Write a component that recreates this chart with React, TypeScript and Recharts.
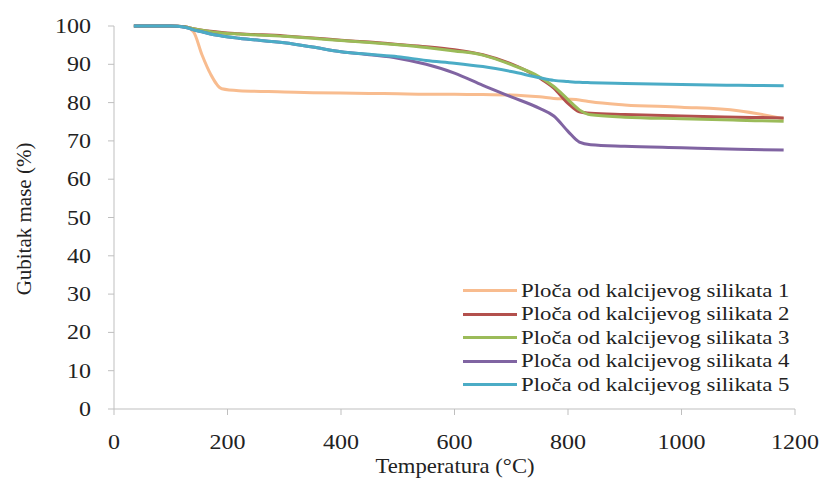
import { LineChart, Line, XAxis, YAxis } from 'recharts';

const temps = [35, 100, 125, 140, 155, 170, 190, 220, 300, 350, 400, 450, 500, 550, 600, 650, 700, 750, 775, 800, 820, 840, 900, 1000, 1100, 1180];

const plate1 = [100, 100, 99.8, 98.5, 92.5, 87.5, 83.6, 83.1, 82.8, 82.6, 82.5, 82.4, 82.3, 82.2, 82.2, 82.1, 82, 81.5, 81.1, 80.9, 80.7, 80.2, 79.4, 78.8, 77.9, 75.8];
const plate2 = [100, 100, 99.8, 99.3, 98.9, 98.6, 98.3, 98, 97.4, 96.9, 96.3, 95.8, 95.2, 94.6, 93.8, 92.5, 90.1, 86.4, 83.8, 79.8, 77.6, 77.2, 76.9, 76.5, 76.2, 76];
const plate3 = [100, 100, 99.8, 99.3, 98.9, 98.5, 98.2, 97.9, 97.3, 96.8, 96.2, 95.7, 95.1, 94.4, 93.5, 92.4, 89.9, 86.7, 84.2, 80.8, 78.1, 76.8, 76.2, 75.8, 75.4, 75.1];
const plate4 = [100, 100, 99.7, 99, 98.5, 97.9, 97.4, 96.8, 95.6, 94.5, 93.3, 92.5, 91.6, 90, 87.7, 84.5, 81.5, 78.5, 76.5, 72.5, 69.7, 69, 68.6, 68.2, 67.8, 67.6];
const plate5 = [100, 100, 99.7, 99, 98.5, 97.9, 97.4, 96.8, 95.6, 94.5, 93.3, 92.6, 92, 91, 90.3, 89.4, 88.1, 86.5, 85.8, 85.5, 85.3, 85.2, 85, 84.7, 84.5, 84.4];

const names = [
  'Ploča od kalcijevog silikata 1',
  'Ploča od kalcijevog silikata 2',
  'Ploča od kalcijevog silikata 3',
  'Ploča od kalcijevog silikata 4',
  'Ploča od kalcijevog silikata 5',
];
const colors = ['#F8BC8F', '#B3504D', '#9BBB59', '#8064A2', '#4BACC6'];

const xTicks = [0, 200, 400, 600, 800, 1000, 1200];
const yTicks = [0, 10, 20, 30, 40, 50, 60, 70, 80, 90, 100];

const series = [plate1, plate2, plate3, plate4, plate5];
const data = temps.map((t, i) => {
  const row: Record<string, number> = { t };
  series.forEach((s, k) => {
    row[`s${k}`] = s[i];
  });
  return row;
});

const FONT = "'Liberation Serif', 'Times New Roman', Times, 'DejaVu Serif', serif";

function XTick(props: any) {
  const { x, y, payload } = props;
  return (
    <g transform={`translate(${x},${y + 32}) scale(1.2,1)`}>
      <text textAnchor="middle" fontFamily={FONT} style={{ fontFamily: FONT, fontSize: 20 }} fill="#222">
        {payload.value}
      </text>
    </g>
  );
}

function YTick(props: any) {
  const { x, y, payload } = props;
  return (
    <g transform={`translate(${x - 15},${y + 7}) scale(1.2,1)`}>
      <text textAnchor="end" fontFamily={FONT} style={{ fontFamily: FONT, fontSize: 20 }} fill="#222">
        {payload.value}
      </text>
    </g>
  );
}

function LegendBox() {
  return (
    <div style={{ position: 'absolute', left: 463, top: 279 }}>
      {names.map((n, i) => (
        <div key={n} style={{ display: 'flex', alignItems: 'center', height: 23.5 }}>
          <span style={{ width: 54, height: 3, background: colors[i], display: 'inline-block', marginRight: 4 }} />
          <span
            style={{
              fontFamily: FONT,
              fontSize: 19,
              color: '#222',
              display: 'inline-block',
              transform: 'scaleX(1.2)',
              transformOrigin: 'left center',
              whiteSpace: 'nowrap',
            }}
          >
            {n}
          </span>
        </div>
      ))}
    </div>
  );
}

export default function App() {
  return (
    <div style={{ position: 'absolute', left: 0, top: 0, width: 827, height: 491, background: '#fff', fontFamily: FONT }}>
      <LineChart width={827} height={491} data={data} margin={{ top: 26, right: 32, bottom: 52, left: 54 }}>
        <XAxis
          dataKey="t"
          type="number"
          domain={[0, 1200]}
          ticks={xTicks}
          tick={<XTick />}
          tickSize={6}
          height={30}
          tickLine={{ stroke: '#BFBFBF' }}
          axisLine={{ stroke: '#BFBFBF' }}
        />
        <YAxis
          type="number"
          domain={[0, 100]}
          ticks={yTicks}
          width={60}
          tick={<YTick />}
          tickSize={6}
          tickLine={{ stroke: '#BFBFBF' }}
          axisLine={{ stroke: '#BFBFBF' }}
        />
        {series.map((_, k) => (
          <Line
            key={k}
            dataKey={`s${k}`}
            type="monotone"
            stroke={colors[k]}
            strokeWidth={3}
            dot={false}
            isAnimationActive={false}
          />
        ))}
        <g transform="translate(455,473) scale(1.08,1)">
          <text textAnchor="middle" fontFamily={FONT} style={{ fontFamily: FONT, fontSize: 21 }} fill="#222">
            Temperatura (°C)
          </text>
        </g>
        <g transform="translate(31,219) rotate(-90) scale(1.05,1.1)">
          <text textAnchor="middle" fontFamily={FONT} style={{ fontFamily: FONT, fontSize: 20 }} fill="#222">
            Gubitak mase (%)
          </text>
        </g>
      </LineChart>
      <LegendBox />
    </div>
  );
}
